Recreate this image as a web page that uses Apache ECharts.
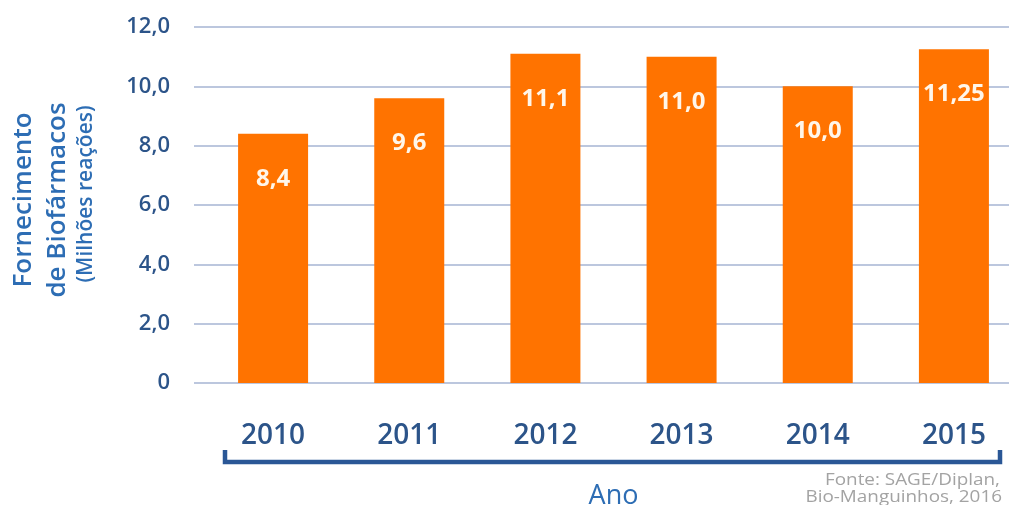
<!DOCTYPE html>
<html>
<head>
<meta charset="utf-8">
<script src="https://cdn.jsdelivr.net/npm/echarts@6/dist/echarts.min.js"></script>
<style>
  html, body { margin: 0; padding: 0; background: #ffffff; }
  #chart { width: 1009px; height: 505px; }
</style>
</head>
<body>
<div id="chart"></div>
<script>
// Fornecimento de biofármacos por ano (milhões de reações)
const years = ['2010', '2011', '2012', '2013', '2014', '2015'];
const supply = [8.4, 9.6, 11.1, 11.0, 10.0, 11.25];
const valueLabels = ['8,4', '9,6', '11,1', '11,0', '10,0', '11,25'];
const yTickLabels = { 0: '0', 2: '2,0', 4: '4,0', 6: '6,0', 8: '8,0', 10: '10,0', 12: '12,0' };

const FONT = '"Open Sans", "DejaVu Sans", sans-serif';
const ORANGE = '#ff7300';
const NAVY = '#2c5489';
const BLUE = '#2d6db4';

const chart = echarts.init(document.getElementById('chart'), null, { renderer: 'canvas' });

chart.setOption({
  animation: false,
  backgroundColor: '#ffffff',
  grid: [
    // gridlines and value scale
    { left: 194, right: 0, top: 27, bottom: 122, containLabel: false, outerBoundsMode: 'none' },
    // bars
    { left: 205, width: 817, top: 27, bottom: 122, containLabel: false, outerBoundsMode: 'none' }
  ],
  xAxis: [
    { gridIndex: 0, type: 'category', data: years, show: false },
    {
      gridIndex: 1,
      type: 'category',
      data: years,
      axisLine: { show: false },
      axisTick: { show: false },
      axisLabel: {
        margin: 39,
        color: NAVY,
        fontFamily: FONT,
        fontWeight: 600,
        fontSize: 28
      },
      name: 'Ano',
      nameLocation: 'middle',
      nameGap: 100,
      nameTextStyle: { color: BLUE, fontFamily: FONT, fontSize: 27, fontWeight: 500 }
    }
  ],
  yAxis: [
    {
      gridIndex: 0,
      type: 'value',
      min: 0,
      max: 12,
      interval: 2,
      axisLine: { show: false },
      axisTick: { show: false },
      splitLine: { show: true, lineStyle: { color: '#bcc7de', width: 2 } },
      axisLabel: {
        margin: 24,
        color: NAVY,
        fontFamily: FONT,
        fontWeight: 600,
        fontSize: 22,
        formatter: v => yTickLabels[v] !== undefined ? yTickLabels[v] : ''
      }
    },
    {
      gridIndex: 1,
      type: 'value',
      min: 0,
      max: 12,
      interval: 2,
      show: false
    }
  ],
  series: [
    {
      type: 'bar',
      xAxisIndex: 1,
      yAxisIndex: 1,
      data: supply,
      barWidth: 70,
      itemStyle: { color: ORANGE },
      label: {
        show: true,
        position: 'insideTop',
        distance: 33,
        color: '#fff6ea',
        fontFamily: FONT,
        fontWeight: 'bold',
        fontSize: 24,
        formatter: p => valueLabels[p.dataIndex]
      }
    }
  ],
  graphic: [
    {
      type: 'text', x: 24, y: 200, rotation: Math.PI / 2,
      style: {
        text: 'Fornecimento', fill: BLUE, font: '600 26px ' + FONT,
        textAlign: 'center', textVerticalAlign: 'middle'
      }
    },
    {
      type: 'text', x: 58, y: 200, rotation: Math.PI / 2,
      style: {
        text: 'de Biofármacos', fill: BLUE, font: '600 26px ' + FONT,
        textAlign: 'center', textVerticalAlign: 'middle'
      }
    },
    {
      type: 'text', x: 86, y: 194, rotation: Math.PI / 2,
      style: {
        text: '(Milhões reações)', fill: BLUE, font: '600 21px ' + FONT,
        textAlign: 'center', textVerticalAlign: 'middle'
      }
    },
    {
      type: 'polyline',
      shape: { points: [[225, 450], [225, 462], [1000, 462], [1000, 450]] },
      style: { stroke: '#2a5796', lineWidth: 4.5, fill: null }
    },
    {
      type: 'text', x: 1000, y: 480, scaleX: 1.18,
      style: {
        text: 'Fonte: SAGE/Diplan,', fill: '#a3a3a3', font: '16px ' + FONT,
        textAlign: 'right', textVerticalAlign: 'middle'
      }
    },
    {
      type: 'text', x: 1002, y: 497, scaleX: 1.18,
      style: {
        text: 'Bio-Manguinhos, 2016', fill: '#a3a3a3', font: '16px ' + FONT,
        textAlign: 'right', textVerticalAlign: 'middle'
      }
    }
  ]
});
</script>
</body>
</html>
